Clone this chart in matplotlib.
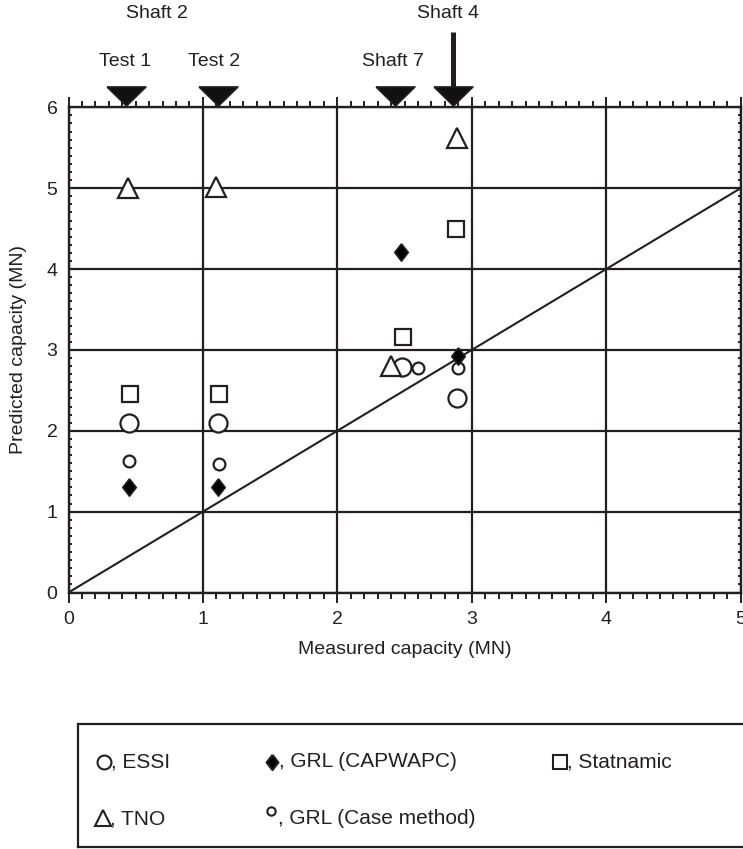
import matplotlib.pyplot as plt
from matplotlib.ticker import MultipleLocator

plt.rcParams['font.family'] = ['Liberation Sans', 'DejaVu Sans']
INK = '#231f20'

# Load tests marked along the top
sites = ['Test 1', 'Test 2', 'Shaft 7', 'Shaft 4']
site_x = [0.43, 1.11, 2.43, 2.86]

# Predicted vs measured capacity (MN) by method
essi_x = [0.45, 1.11, 2.48, 2.89]
essi_y = [2.09, 2.09, 2.79, 2.40]
capwapc_x = [0.45, 1.11, 2.47, 2.90]
capwapc_y = [1.30, 1.30, 4.21, 2.93]
statnamic_x = [0.46, 1.12, 2.49, 2.88]
statnamic_y = [2.45, 2.45, 3.16, 4.50]
tno_x = [0.44, 1.10, 2.40, 2.89]
tno_y = [5.00, 5.02, 2.80, 5.62]
case_x = [0.45, 1.12, 2.60, 2.90]
case_y = [1.62, 1.59, 2.78, 2.78]

legend_labels = ['ESSI', 'GRL (CAPWAPC)', 'Statnamic', 'TNO', 'GRL (Case method)']

fig = plt.figure(figsize=(7.43, 8.49), dpi=100)
ax = fig.add_axes([68.5 / 743, 1 - 592.5 / 849, 672.2 / 743, 485.2 / 849])
ax.set_xlim(0, 5)
ax.set_ylim(0, 6)

ax.grid(True, which='major', color=INK, lw=1.6)
ax.set_axisbelow(True)
for s in ax.spines.values():
    s.set_color(INK)
    s.set_linewidth(1.7)

ax.xaxis.set_major_locator(MultipleLocator(1))
ax.xaxis.set_minor_locator(MultipleLocator(0.1))
ax.yaxis.set_major_locator(MultipleLocator(1))
ax.yaxis.set_minor_locator(MultipleLocator(0.1))
ax.tick_params(axis='x', which='both', top=True, bottom=True, direction='out',
               color=INK, width=1.4, labelsize=14, labelcolor=INK, pad=6)
ax.tick_params(axis='x', which='major', length=7.5)
ax.tick_params(axis='x', which='minor', length=4.5)
ax.tick_params(axis='y', which='both', left=True, right=True, direction='out',
               color=INK, width=1.4, length=6, labelsize=14, labelcolor=INK, pad=8)
ax.tick_params(axis='y', which='both', right=True, direction='in', length=2)

# 1:1 line
ax.plot([0, 5], [0, 5], color=INK, lw=1.5)

diamond = [(0, 1), (0.78, 0), (0, -1), (-0.78, 0), (0, 1)]
mk = dict(ls='none', color=INK, mew=1.6, clip_on=False)
ax.plot(essi_x, essi_y, marker='o', ms=13, mfc='white', **mk)
ax.plot(case_x, case_y, marker='o', ms=8.5, mfc='white', **mk)
ax.plot(statnamic_x, statnamic_y, marker='s', ms=12, mfc='white', **mk)
ax.plot(tno_x, tno_y, marker='^', ms=15, mfc='white', **mk)
ax.plot(capwapc_x, capwapc_y, marker=diamond, ms=12.5, mfc='black', mec=INK, mew=1.2,
        ls='none', clip_on=False)

# markers and labels above the plot
tri = [(-1, 0.49), (1, 0.49), (0, -0.49), (-1, 0.49)]
ax.plot(site_x, [6.145] * len(site_x), ls='none', marker=tri, ms=28,
        mfc='#111111', mec=INK, mew=1.2, clip_on=False, zorder=5)
ax.plot([site_x[3], site_x[3]], [6.93, 6.2], color=INK, lw=3.6,
        clip_on=False, solid_capstyle='butt')
for name, x in zip(sites[:3], [0.42, 1.085, 2.41]):
    ax.text(x, 6.57, name, ha='center', va='center', fontsize=14, color=INK)
ax.text(0.66, 7.16, 'Shaft 2', ha='center', va='center', fontsize=14, color=INK)
ax.text(2.82, 7.16, 'Shaft 4', ha='center', va='center', fontsize=14, color=INK)

ax.set_xlabel('Measured capacity (MN)', fontsize=14, color=INK, labelpad=9)
ax.set_ylabel('Predicted capacity (MN)', fontsize=14, color=INK, labelpad=14)

# legend box
lg = fig.add_axes([78 / 743, 1 - 847 / 849, 690 / 743, 123 / 849])
lg.set_xlim(78, 768)
lg.set_ylim(847, 724)
lg.set_xticks([])
lg.set_yticks([])
for s in lg.spines.values():
    s.set_color(INK)
    s.set_linewidth(1.6)

leg = [
    (104, 762, 'o', 10, 'white', 762),
    (272, 762, diamond, 11, 'black', 762),
    (560, 762, 's', 10, 'white', 762),
    (103, 818, '^', 12, 'white', 819),
    (271, 811, 'o', 6, 'white', 819),
]
for (x, y, m, s, fc, ty), lab in zip(leg, legend_labels):
    lg.plot([x], [y], marker=m, ms=s, mfc=fc, mec=INK, mew=1.5, ls='none')
    lg.text(x + 7, ty, ', ' + lab, ha='left', va='center', fontsize=15, color=INK)

fig.savefig('out.png', dpi=100)
